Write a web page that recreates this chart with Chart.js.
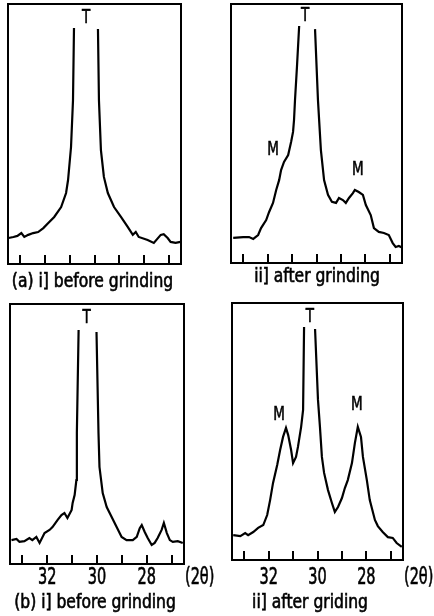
<!DOCTYPE html>
<html><head><meta charset="utf-8">
<script src="https://cdn.jsdelivr.net/npm/chart.js@4.4.1/dist/chart.umd.min.js"></script>
<style>
html,body{margin:0;padding:0;background:#fff;width:434px;height:616px;overflow:hidden}
.p{position:absolute}
</style></head><body>
<div class="p" style="left:0;top:0;width:217px;height:300px"><canvas id="c1"></canvas></div>
<div class="p" style="left:217px;top:0;width:217px;height:300px"><canvas id="c2"></canvas></div>
<div class="p" style="left:0;top:300px;width:234px;height:316px"><canvas id="c3"></canvas></div>
<div class="p" style="left:217px;top:300px;width:217px;height:316px"><canvas id="c4"></canvas></div>
<script>
// ---- axis ticks (2θ, degrees) ----
const ticks2theta = [33, 32, 31, 30, 29, 28, 27];
const tickLabelValues = [32, 30, 28];
const axisUnit = '(2θ)';

// ---- (a) i] before grinding ----
const x_ai = [33.48,33.28,33.12,32.96,32.84,32.68,32.48,32.28,32.07,31.87,31.63,31.35,31.15,31.07,30.95,30.87,30.83,30.34,29.86,29.82,29.74,29.62,29.46,29.21,28.93,28.65,28.45,28.33,28.21,27.85,27.6,27.32,27.2,27.04,26.92,26.72,26.52];
const y_ai = [10.0,10.4,10.8,11.9,10.4,11.2,11.9,12.3,13.8,15.8,18.1,21.9,27.3,32.3,45,63,90.8,null,90.4,63,43.8,33.5,27.3,21.9,18.1,14.2,11.2,12.3,10.4,9.2,8.1,11.2,11.5,10.0,8.5,8.1,8.5];
const peaks_ai = ['T'];
const peaksX_ai = [30.34];
const peaksY_ai = [94.6];

// ---- (a) ii] after grinding ----
const x_aii = [33.41,33.0,32.76,32.59,32.39,32.27,32.06,31.94,31.78,31.65,31.53,31.45,31.33,31.16,31.04,30.96,30.92,30.88,30.8,30.71,30.4,30.06,29.94,29.82,29.69,29.53,29.37,29.2,29.08,28.92,28.8,28.67,28.51,28.43,28.27,28.1,27.98,27.78,27.65,27.45,27.24,27.04,26.88,26.76,26.63,26.47];
const y_aii = [9.7,10.0,10.0,9.3,10.8,13.5,16.6,19.7,23.2,28.2,32.0,35.9,39.0,41.7,46.7,50.6,55.2,62.9,75.7,91.5,null,90.3,62.9,43.6,32.0,26.3,23.6,23.2,25.1,24.3,23.2,25.1,27.0,28.2,27.4,26.3,22.4,18.5,13.5,12.0,11.6,10.8,7.7,6.2,6.6,5.8];
const peaks_aii = ['T', 'M', 'M'];
const peaksX_aii = [30.47, 31.78, 28.31];
const peaksY_aii = [95.4, 43.6, 35.9];

// ---- (b) i] before grinding ----
const x_bi = [33.44,33.24,33.12,32.92,32.72,32.6,32.44,32.31,32.11,31.91,31.79,31.59,31.43,31.31,31.19,31.02,30.98,30.9,30.83,30.81,30.74,30.38,30.02,29.94,29.9,29.77,29.61,29.41,29.21,29.01,28.81,28.56,28.4,28.28,28.2,28.08,27.96,27.8,27.68,27.56,27.4,27.31,27.19,27.07,26.95,26.75,26.55];
const y_bi = [9.2,9.6,8.5,8.8,10.0,9.2,10.4,8.1,11.9,13.1,14.2,16.9,18.8,19.6,17.7,20.8,23.5,26.5,32.3,50.4,90.0,null,89.2,50.4,37.3,27.3,21.9,18.1,14.2,10.4,9.2,9.2,10.4,13.8,15.0,12.3,10.0,7.3,8.1,10.0,13.1,15.8,11.9,9.2,8.5,8.8,8.1];
const peaks_bi = ['T'];
const peaksX_bi = [30.42];
const peaksY_bi = [94.6];

// ---- (b) ii] after griding ----
const x_bii = [33.45,33.16,32.96,32.84,32.63,32.43,32.22,32.06,31.94,31.82,31.65,31.53,31.41,31.29,31.2,31.08,31.0,30.88,30.8,30.67,30.59,30.55,30.32,30.1,29.98,29.9,29.82,29.73,29.57,29.41,29.29,29.16,29.0,28.88,28.76,28.59,28.47,28.35,28.22,28.14,27.98,27.86,27.65,27.53,27.33,27.12,26.92,26.76,26.55];
const y_bii = [9.7,9.3,10.5,9.7,10.9,12.5,13.6,17.5,23.3,30.0,37.0,42.8,47.9,51.4,48.6,42.8,37.7,40.1,44.0,51.8,58.4,90.7,null,89.9,62.3,51.8,40.1,33.9,27.2,22.2,18.7,20.6,24.1,28.0,31.1,37.7,45.5,51.8,47.9,40.1,31.1,23.3,15.6,13.2,10.9,8.9,8.6,6.6,5.1];
const peaks_bii = ['T', 'M', 'M'];
const peaksX_bii = [30.31, 31.57, 28.39];
const peaksY_bii = [94.6, 56.4, 60.3];

const FONT = "'DejaVu Sans Condensed', 'DejaVu Sans', sans-serif";

function txt(ctx, s, x, y, size, align, sx) {
  ctx.save();
  ctx.font = size + 'px ' + FONT;
  ctx.textAlign = align;
  ctx.textBaseline = 'middle';
  ctx.translate(x, y);
  ctx.scale(sx, 1);
  ctx.lineWidth = 0.6;
  ctx.fillText(s, 0, 0);
  ctx.strokeText(s, 0, 0);
  ctx.restore();
}

const deco = {
  id: 'deco',
  afterDatasetsDraw(chart, args, o) {
    const { ctx, chartArea: a, scales: { x, y } } = chart;
    ctx.save();
    ctx.strokeStyle = '#000';
    ctx.fillStyle = '#000';
    ctx.lineWidth = 2;
    ctx.strokeRect(a.left, a.top, a.right - a.left, a.bottom - a.top);
    ticks2theta.forEach(v => {
      const px = Math.round(x.getPixelForValue(v));
      ctx.beginPath();
      ctx.moveTo(px, a.bottom);
      ctx.lineTo(px, a.bottom - 9);
      ctx.stroke();
    });
    if (o.tickLabels) {
      tickLabelValues.forEach(v => txt(ctx, String(v), x.getPixelForValue(v), a.bottom + o.tickDy, 23, 'center', 0.7));
      txt(ctx, axisUnit, a.right + 1, a.bottom + o.tickDy, 23, 'left', 0.7);
    }
    o.peaks.forEach((t, i) => txt(ctx, t, x.getPixelForValue(o.px[i]), y.getPixelForValue(o.py[i]), 20, 'center', 0.75));
    txt(ctx, o.title, (a.left + a.right) / 2 + o.titleDx, a.bottom + o.titleDy, 19, 'center', o.titleSx);
    ctx.restore();
  }
};

function makeChart(id, xs, ys, pad, deco_opts) {
  const data = xs.map((v, i) => ({ x: v, y: ys[i] }));
  new Chart(document.getElementById(id), {
    type: 'line',
    data: { datasets: [{ data, borderColor: '#000', borderWidth: 2.2, pointRadius: 0, tension: 0, spanGaps: false, fill: false }] },
    options: {
      responsive: true, maintainAspectRatio: false, animation: false,
      layout: { padding: pad },
      plugins: { legend: { display: false }, tooltip: { enabled: false }, deco: deco_opts },
      scales: {
        x: { type: 'linear', reverse: true, min: 26.5, max: 33.5, display: false },
        y: { type: 'linear', min: 0, max: 100, display: false }
      }
    },
    plugins: [deco]
  });
}

makeChart('c1', x_ai, y_ai, { left: 8, top: 4, right: 36, bottom: 36 },
  { tickLabels: false, peaks: peaks_ai, px: peaksX_ai, py: peaksY_ai, title: '(a) i] before grinding', titleDx: -2, titleDy: 18, titleSx: 0.91 });
makeChart('c2', x_aii, y_aii, { left: 14, top: 4, right: 32, bottom: 37 },
  { tickLabels: false, peaks: peaks_aii, px: peaksX_aii, py: peaksY_aii, title: 'ii] after grinding', titleDx: 0.5, titleDy: 14, titleSx: 0.91 });
makeChart('c3', x_bi, y_bi, { left: 10, top: 4, right: 50, bottom: 52 },
  { tickLabels: true, tickDy: 14, peaks: peaks_bi, px: peaksX_bi, py: peaksY_bi, title: '(b) i] before grinding', titleDx: -2, titleDy: 39, titleSx: 0.91 });
makeChart('c4', x_bii, y_bii, { left: 15, top: 3, right: 31, bottom: 56 },
  { tickLabels: true, tickDy: 18, peaks: peaks_bii, px: peaksX_bii, py: peaksY_bii, title: 'ii] after griding', titleDx: -7.5, titleDy: 43, titleSx: 0.91 });
</script>
</body></html>
